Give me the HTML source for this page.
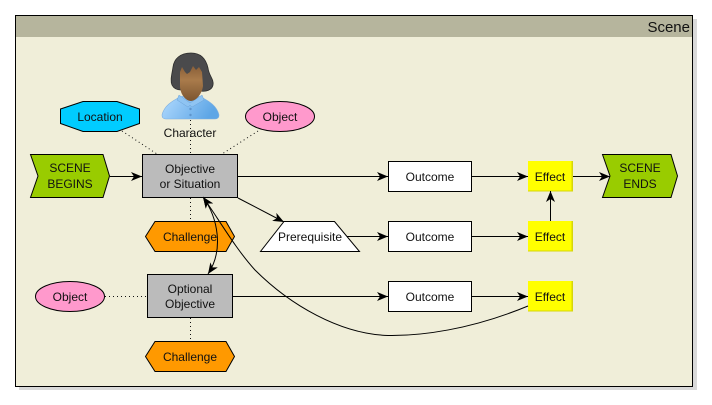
<!DOCTYPE html>
<html><head><meta charset="utf-8"><style>
html,body{margin:0;padding:0;background:#fff;width:712px;height:405px;overflow:hidden}
svg{display:block}
text{font-family:"Liberation Sans",Arial,sans-serif;font-size:12px;fill:#111;text-anchor:middle}
.s{stroke:#000;stroke-width:1}
.e{fill:none;stroke:#000;stroke-width:1}
.d{fill:none;stroke:#111;stroke-width:1;stroke-dasharray:1 3}
</style></head><body>
<svg width="712" height="405" viewBox="0 0 712 405" xmlns="http://www.w3.org/2000/svg">
<defs>
<marker id="a" markerUnits="userSpaceOnUse" markerWidth="14" markerHeight="12" refX="11" refY="5" orient="auto"><path d="M0 0.500L11 5L0 9.500L3 5Z" fill="#000"/></marker>
<marker id="b" markerUnits="userSpaceOnUse" markerWidth="14" markerHeight="12" refX="0" refY="5" orient="auto"><path d="M11 0.500L0 5L11 9.500L8 5Z" fill="#000"/></marker>
<linearGradient id="sh" x1="0" y1="0" x2="1" y2="0.3"><stop offset="0" stop-color="#b4dcff"/><stop offset="1" stop-color="#5ea6e6"/></linearGradient>
<linearGradient id="sk" x1="0" y1="0" x2="0" y2="1"><stop offset="0" stop-color="#8a5f38"/><stop offset="0.4" stop-color="#a97b4b"/><stop offset="1" stop-color="#7c5530"/></linearGradient>
</defs>
<rect x="19" y="19" width="678" height="371" fill="#d9d9d9"/>
<rect x="15.500" y="15.500" width="677" height="371" fill="#f0eed9"/>
<rect x="16" y="16" width="676" height="21" fill="#b6b59d"/>
<rect x="15.500" y="15.500" width="677" height="371" fill="none" stroke="#000"/>
<text x="690" y="32" style="font-size:15px;text-anchor:end">Scene</text>

<line class="d" x1="122" y1="131" x2="157" y2="154"/>
<line class="d" x1="190.500" y1="120" x2="190.500" y2="154"/>
<line class="d" x1="258" y1="131" x2="222" y2="154"/>
<line class="d" x1="190.500" y1="198" x2="190.500" y2="221"/>
<line class="d" x1="105" y1="296.500" x2="147" y2="296.500"/>
<line class="d" x1="190.500" y1="318" x2="190.500" y2="341"/>

<polygon class="s" points="30.500,154.500 103,154.500 109.500,176 103,197.500 30.500,197.500 38,176" fill="#99cc00"/>
<text x="70" y="172">SCENE</text><text x="70" y="188">BEGINS</text>
<polygon class="s" points="83,101.500 117,101.500 139.500,109 139.500,123.500 117,131.500 83,131.500 60.500,123.500 60.500,109" fill="#00ccff"/>
<text x="100" y="121">Location</text>
<ellipse class="s" cx="280" cy="116.500" rx="34.500" ry="15" fill="#ff99cc"/>
<text x="280" y="121">Object</text>

<!-- Character -->
<path d="M162 115C164 106 172 101 180 97L190 94L201 97C209 101 217 106 219 115C219 118 217 119 215 119L166 119C164 119 162 118 162 115Z" fill="url(#sh)" stroke="#7fb0e0" stroke-width="0.6"/>
<path d="M179 95L190 103L202 95L204 100L192 107L190 105L188 107L177 100Z" fill="#8fc4f2" stroke="#6ea4d8" stroke-width="0.5"/>
<circle cx="190.500" cy="109" r="1.200" fill="#5f95cc"/><circle cx="190.500" cy="115" r="1.200" fill="#5f95cc"/>
<path d="M191 53C180 53 174 59 173 67C172 74 170 80 172 85C174 89 178 90 181 90L201 91C206 92 212 90 213 85C214 79 209 76 208 68C206 59 201 53 191 53Z" fill="#4a4a4c" stroke="#2c2c2c" stroke-width="0.8"/>
<path d="M180 72L182 67L185 72L187 74L190 72L193 66L196 70L199 67L202 72L203 86C202 94 196 101 191 101C185 101 180 93 180 86Z" fill="url(#sk)"/>
<text x="190" y="137">Character</text>

<rect class="s" x="142.500" y="154.500" width="95" height="43" fill="#bbb"/>
<text x="190" y="173">Objective</text><text x="190" y="188">or Situation</text>
<polygon class="s" points="155,221.500 226,221.500 234.500,236.500 226,251.500 155,251.500 145.500,236.500" fill="#ff9900"/>
<text x="190" y="241">Challenge</text>
<polygon class="s" points="284,221.500 334.500,221.500 359.500,251.500 260.500,251.500" fill="#fff"/>
<text x="310" y="241">Prerequisite</text>
<rect class="s" x="147.500" y="274.500" width="85" height="43" fill="#bbb"/>
<text x="190" y="293">Optional</text><text x="190" y="308">Objective</text>
<ellipse class="s" cx="70" cy="296.500" rx="34.500" ry="15" fill="#ff99cc"/>
<text x="70" y="301">Object</text>
<polygon class="s" points="155,341.500 226,341.500 234.500,356.500 226,371.500 155,371.500 145.500,356.500" fill="#ff9900"/>
<text x="190" y="361">Challenge</text>

<rect class="s" x="388.500" y="161.500" width="83" height="30" fill="#fff"/><text x="430" y="181">Outcome</text>
<rect class="s" x="388.500" y="221.500" width="83" height="30" fill="#fff"/><text x="430" y="241">Outcome</text>
<rect class="s" x="388.500" y="281.500" width="83" height="30" fill="#fff"/><text x="430" y="301">Outcome</text>

<g>
<rect x="528" y="161" width="45" height="30.500" fill="#d6d60a"/><rect x="528" y="161" width="43.500" height="29.500" fill="#ff0"/><text x="550" y="181">Effect</text>
<rect x="528" y="221" width="45" height="30.500" fill="#d6d60a"/><rect x="528" y="221" width="43.500" height="29.500" fill="#ff0"/><text x="550" y="241">Effect</text>
<rect x="528" y="281" width="45" height="30.500" fill="#d6d60a"/><rect x="528" y="281" width="43.500" height="29.500" fill="#ff0"/><text x="550" y="301">Effect</text>
</g>
<polygon class="s" points="602.500,154.500 671,154.500 677.500,176 671,197.500 602.500,197.500 610,176" fill="#99cc00"/>
<text x="640" y="172">SCENE</text><text x="640" y="188">ENDS</text>

<line class="e" x1="110" y1="176.500" x2="142" y2="176.500" marker-end="url(#a)"/>
<line class="e" x1="238" y1="176.500" x2="388" y2="176.500" marker-end="url(#a)"/>
<line class="e" x1="472" y1="176.500" x2="528" y2="176.500" marker-end="url(#a)"/>
<line class="e" x1="573" y1="176.500" x2="610" y2="176.500" marker-end="url(#a)"/>
<line class="e" x1="550.500" y1="221" x2="550.500" y2="191" marker-end="url(#a)"/>
<line class="e" x1="238" y1="198" x2="284" y2="222" marker-end="url(#a)"/>
<line class="e" x1="347" y1="236.500" x2="388" y2="236.500" marker-end="url(#a)"/>
<line class="e" x1="472" y1="236.500" x2="528" y2="236.500" marker-end="url(#a)"/>
<line class="e" x1="233" y1="296.500" x2="388" y2="296.500" marker-end="url(#a)"/>
<line class="e" x1="472" y1="296.500" x2="528" y2="296.500" marker-end="url(#a)"/>
<path class="e" d="M528 306C470 330 420 336 388 335.500C340 334 290 305 255 270C235 248 218 218 203 197" marker-end="url(#a)"/>
<path class="e" d="M203 197C218 218 224 250 208 274" marker-start="url(#b)" marker-end="url(#a)"/>
</svg>
</body></html>
